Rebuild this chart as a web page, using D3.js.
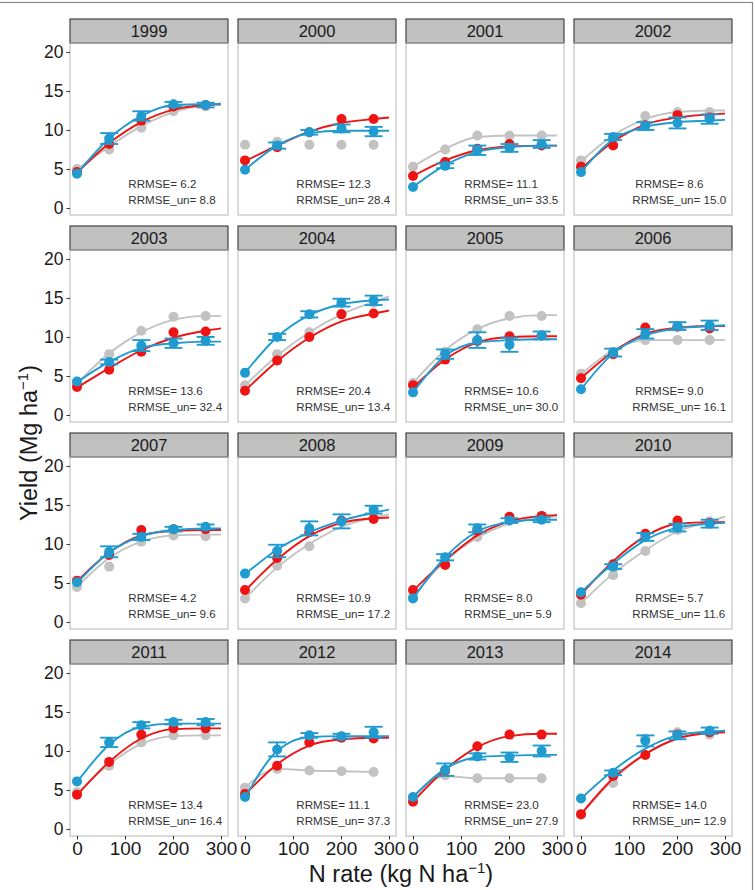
<!DOCTYPE html>
<html>
<head>
<meta charset="utf-8">
<script src="https://cdn.jsdelivr.net/npm/d3@7"></script>
<style>
  body { margin: 0; background: #fff; }
  text { font-family: "Liberation Sans", Arial, sans-serif; }
</style>
</head>
<body>
<div id="chart"></div>
<script>
// --- data ---
const years = ["1999", "2000", "2001", "2002", "2003", "2004", "2005", "2006",
  "2007", "2008", "2009", "2010", "2011", "2012", "2013", "2014"];
const nRates = [0, 67, 134, 201, 268];
const fitRates = [0, 67, 134, 201, 268, 300];
const xTicks = [0, 100, 200, 300];
const yTicks = [0, 5, 10, 15, 20];

const grayObs = [
  [5.0, 7.5, 10.3, 12.4, 13.0], [8.1, 8.5, 8.1, 8.1, 8.1], [5.3, 7.5, 9.3, 9.3, 9.3], [6.1, 8.8, 11.8, 12.3, 12.3],
  [4.0, 7.8, 10.8, 12.6, 12.7], [3.8, 7.8, 10.6, 13.0, 14.4], [4.1, 8.1, 11.0, 12.7, 12.7], [5.3, 8.1, 9.6, 9.6, 9.6],
  [4.5, 7.1, 10.3, 11.1, 11.0], [3.0, 7.2, 9.7, 12.9, 13.5], [3.3, 7.7, 10.9, 13.0, 13.3], [2.4, 6.0, 9.1, 11.8, 12.9],
  [4.7, 8.1, 11.1, 12.0, 12.0], [5.3, 7.7, 7.5, 7.4, 7.3], [4.0, 6.9, 6.5, 6.5, 6.5], [1.8, 5.9, 11.6, 12.4, 12.1]
];
const redObs = [
  [4.6, 8.2, 11.2, 13.0, 13.2], [6.1, 7.8, 9.7, 11.4, 11.4], [4.1, 5.9, 7.6, 8.2, 8.0], [5.3, 8.0, 10.6, 11.9, 11.6],
  [3.6, 5.8, 8.1, 10.6, 10.7], [3.1, 7.0, 10.0, 12.9, 13.0], [3.8, 7.1, 9.5, 10.1, 10.2], [4.7, 7.8, 11.2, 11.3, 11.1],
  [5.3, 8.6, 11.8, 11.9, 11.9], [4.1, 8.2, 11.5, 13.0, 13.2], [4.1, 7.3, 11.7, 13.5, 13.6], [3.5, 7.4, 11.3, 13.0, 12.7],
  [4.4, 8.6, 12.1, 12.9, 12.9], [4.5, 8.1, 11.1, 11.7, 11.6], [3.5, 7.5, 10.6, 12.1, 12.1], [1.9, 6.8, 9.5, 12.1, 12.4]
];
const blueObs = [
  [4.4, 8.9, 11.8, 13.3, 13.2], [4.9, 8.0, 9.7, 10.2, 9.8], [2.7, 5.4, 7.4, 7.7, 8.2], [4.6, 9.1, 10.5, 10.9, 11.4],
  [4.3, 6.8, 8.9, 9.2, 9.5], [5.4, 10.0, 12.9, 14.4, 14.7], [2.9, 7.8, 9.6, 9.0, 10.2], [3.3, 8.0, 10.4, 11.4, 11.5],
  [5.1, 9.0, 10.9, 11.9, 12.2], [6.2, 9.1, 12.0, 12.9, 14.4], [3.0, 8.3, 12.0, 13.0, 13.1], [3.8, 7.1, 10.9, 12.1, 12.6],
  [6.1, 11.1, 13.3, 13.7, 13.7], [4.1, 10.2, 12.0, 11.9, 12.4], [4.1, 7.6, 9.3, 9.2, 10.0], [3.9, 7.2, 11.3, 12.0, 12.6]
];
// half-width of the blue error bars (0 = hidden behind the point)
const blueErr = [
  [0, 0.7, 0.6, 0.3, 0.3], [0, 0.4, 0.3, 0.5, 0.6], [0, 0.3, 0.6, 0.5, 0.5], [0, 0.4, 0.5, 0.7, 0.6],
  [0, 0.3, 0.7, 0.6, 0.5], [0, 0.4, 0.4, 0.5, 0.6], [0, 0.6, 1.0, 0.9, 0.5], [0, 0.5, 0.6, 0.5, 0.6],
  [0, 0.7, 0.4, 0.3, 0.3], [0, 0.8, 0.9, 0.9, 0.5], [0, 0.4, 0.5, 0.3, 0.3], [0, 0.3, 0.5, 0.5, 0.5],
  [0, 0.6, 0.4, 0.3, 0.4], [0, 0.9, 0.3, 0.3, 0.7], [0, 0.8, 0.4, 0.6, 0.7], [0, 0.3, 0.7, 0.5, 0.4]
];

// fitted curves, sampled at fitRates
const grayFit = [
  [4.9, 7.9, 10.5, 12.3, 13.2, 13.4], [null, null, null, null, null, null], [5.3, 7.6, 9.1, 9.3, 9.3, 9.3],
  [6.0, 9.3, 11.4, 12.3, 12.5, 12.5], [4.0, 7.9, 10.6, 12.2, 12.7, 12.7], [3.8, 7.6, 10.6, 12.9, 14.5, 15.2],
  [4.1, 8.3, 11.0, 12.4, 12.8, 12.8], [5.2, 8.3, 9.6, 9.6, 9.6, 9.6], [4.5, 8.2, 10.3, 11.1, 11.2, 11.2],
  [3.0, 7.0, 10.0, 12.2, 13.4, 13.8], [3.3, 7.8, 10.8, 12.6, 13.4, 13.5], [2.4, 6.2, 9.2, 11.6, 12.9, 13.5],
  [4.6, 8.3, 10.9, 11.9, 12.0, 12.0], [5.3, 7.7, 7.5, 7.4, 7.3, null], [4.0, 6.8, 6.5, 6.5, 6.5, null],
  [1.8, 6.3, 9.6, 11.6, 12.4, 12.6]
];
const redFit = [
  [4.5, 8.3, 11.0, 12.6, 13.2, 13.3], [6.0, 8.0, 9.8, 10.9, 11.4, 11.6], [4.1, 6.1, 7.4, 7.9, 8.0, 8.0],
  [5.0, 8.5, 10.7, 11.6, 12.0, 12.1], [3.5, 6.0, 8.3, 9.9, 10.8, 11.1], [3.1, 6.9, 9.9, 12.0, 13.0, 13.4],
  [3.5, 7.1, 9.3, 10.0, 10.1, 10.1], [4.7, 8.1, 10.4, 11.2, 11.4, 11.4], [5.2, 8.9, 11.1, 11.7, 11.8, 11.8],
  [4.0, 8.0, 11.0, 12.7, 13.3, 13.4], [4.0, 7.9, 11.1, 12.9, 13.6, 13.7], [3.5, 7.8, 11.0, 12.6, 12.8, 12.8],
  [4.3, 8.6, 11.6, 12.8, 12.9, 12.9], [4.4, 8.3, 10.7, 11.5, 11.7, 11.7], [3.5, 7.6, 10.5, 11.9, 12.2, 12.2],
  [1.9, 6.5, 9.6, 11.6, 12.3, 12.4]
];
const blueFit = [
  [4.4, 8.9, 11.8, 13.2, 13.3, 13.3], [4.9, 8.0, 9.6, 9.9, 9.9, 9.9], [2.7, 5.5, 7.2, 7.8, 8.0, 8.0],
  [4.6, 8.8, 10.4, 11.0, 11.2, 11.3], [4.2, 6.8, 8.6, 9.2, 9.4, 9.4], [5.4, 10.0, 12.8, 14.2, 14.7, 14.8],
  [2.9, 7.6, 9.3, 9.6, 9.7, 9.7], [3.3, 7.9, 10.2, 11.1, 11.4, 11.5], [5.0, 8.9, 11.0, 11.8, 12.0, 12.0],
  [6.1, 9.3, 11.5, 13.0, 14.0, 14.4], [3.0, 8.3, 11.6, 12.8, 13.1, 13.1], [3.8, 7.5, 10.5, 12.1, 12.6, 12.7],
  [6.0, 10.8, 13.1, 13.5, 13.5, 13.5], [4.0, 10.0, 11.8, 11.9, 11.9, 11.9], [4.1, 7.7, 9.2, 9.4, 9.5, 9.5],
  [3.9, 7.5, 10.3, 12.0, 12.5, 12.6]
];

const rrmse = ["6.2", "12.3", "11.1", "8.6", "13.6", "20.4", "10.6", "9.0",
  "4.2", "10.9", "8.0", "5.7", "13.4", "11.1", "23.0", "14.0"];
const rrmseUn = ["8.8", "28.4", "33.5", "15.0", "32.4", "13.4", "30.0", "16.1",
  "9.6", "17.2", "5.9", "11.6", "16.4", "37.3", "27.9", "12.9"];

// --- layout ---
const width = 755, height = 890;
const nCols = 4;
const panelLeft = 70, panelPitchX = 168, panelW = 158;
const stripTop = 19, panelPitchY = 207, stripH = 24, plotH = 172;
const grayCol = "#c2c2c2", redCol = "#ee1414", blueCol = "#1f9bd0";
const lineW = 1.9, pointR = 5, capHalf = 9;

const svg = d3.select("#chart").append("svg")
  .attr("width", width)
  .attr("height", height);

svg.append("rect")
  .attr("x", -2).attr("y", 2.5)
  .attr("width", 754.5).attr("height", height + 10)
  .attr("fill", "none").attr("stroke", "#8a8a8a").attr("stroke-width", 1.2);

years.forEach((yr, i) => {
  const col = i % nCols, row = Math.floor(i / nCols);
  const left = panelLeft + col * panelPitchX;
  const sTop = stripTop + row * panelPitchY;
  const pTop = sTop + stripH;
  const pBottom = pTop + plotH;

  const x = d3.scaleLinear().domain([-14.6, 314.6]).range([left, left + panelW]);
  const y = d3.scaleLinear().domain([-0.9, 21.15]).range([pBottom, pTop]);

  const g = svg.append("g");

  // strip
  g.append("rect")
    .attr("x", left).attr("y", sTop)
    .attr("width", panelW).attr("height", stripH)
    .attr("fill", "#c0c0c0").attr("stroke", "#333").attr("stroke-width", 1.1);
  g.append("text")
    .attr("x", left + panelW / 2).attr("y", sTop + stripH / 2 + 6)
    .attr("text-anchor", "middle")
    .attr("font-size", 16.5).attr("fill", "#1a1a1a")
    .text(yr);

  // panel border
  g.append("rect")
    .attr("x", left).attr("y", pTop)
    .attr("width", panelW).attr("height", plotH)
    .attr("fill", "none").attr("stroke", "#b5b5b5").attr("stroke-width", 1);

  // axes: y on first column, x on bottom row
  if (col === 0) {
    const ya = g.append("g")
      .attr("transform", `translate(${left},0)`)
      .call(d3.axisLeft(y).tickValues(yTicks).tickSize(3.5).tickPadding(3));
    ya.select(".domain").remove();
    ya.selectAll("line").attr("stroke", "#333");
    ya.selectAll("text").attr("font-size", 17.5).attr("fill", "#1a1a1a")
      .attr("font-family", "Liberation Sans, Arial, sans-serif");
  }
  if (row === Math.floor((years.length - 1) / nCols)) {
    const xa = g.append("g")
      .attr("transform", `translate(0,${pBottom})`)
      .call(d3.axisBottom(x).tickValues(xTicks).tickSize(3.5).tickPadding(2));
    xa.select(".domain").remove();
    xa.selectAll("line").attr("stroke", "#333");
    xa.selectAll("text").attr("font-size", 19).attr("fill", "#1a1a1a")
      .attr("font-family", "Liberation Sans, Arial, sans-serif");
  }

  const line = d3.line()
    .defined(d => d[1] !== null)
    .x(d => x(d[0]))
    .y(d => y(d[1]))
    .curve(d3.curveMonotoneX);

  const series = [
    { fit: grayFit[i], obs: grayObs[i], color: grayCol },
    { fit: redFit[i], obs: redObs[i], color: redCol },
    { fit: blueFit[i], obs: blueObs[i], color: blueCol, err: blueErr[i] }
  ];

  series.forEach(s => {
    const fitPts = fitRates.map((n, k) => [n, s.fit[k]]);
    if (fitPts.some(d => d[1] !== null)) {
      g.append("path")
        .datum(fitPts)
        .attr("d", line)
        .attr("fill", "none")
        .attr("stroke", s.color)
        .attr("stroke-width", lineW);
    }

    const pts = nRates.map((n, k) => ({ n: n, v: s.obs[k], e: s.err ? s.err[k] : 0 }));

    if (s.err) {
      const eb = g.append("g")
        .attr("stroke", s.color)
        .attr("stroke-width", lineW)
        .selectAll("g")
        .data(pts.filter(d => d.e > 0))
        .join("g");
      eb.append("line")
        .attr("x1", d => x(d.n)).attr("x2", d => x(d.n))
        .attr("y1", d => y(d.v - d.e)).attr("y2", d => y(d.v + d.e));
      eb.append("line")
        .attr("x1", d => x(d.n) - capHalf).attr("x2", d => x(d.n) + capHalf)
        .attr("y1", d => y(d.v + d.e)).attr("y2", d => y(d.v + d.e));
      eb.append("line")
        .attr("x1", d => x(d.n) - capHalf).attr("x2", d => x(d.n) + capHalf)
        .attr("y1", d => y(d.v - d.e)).attr("y2", d => y(d.v - d.e));
    }

    g.append("g")
      .selectAll("circle")
      .data(pts)
      .join("circle")
      .attr("cx", d => x(d.n))
      .attr("cy", d => y(d.v))
      .attr("r", pointR)
      .attr("fill", s.color);
  });

  // RRMSE annotation
  const l1 = "RRMSE= " + rrmse[i];
  const l2 = "RRMSE_un= " + rrmseUn[i];
  const shift = (l2.length - l1.length) > 3 ? 3 : 0;
  const tx = x(107);
  g.append("text")
    .attr("x", tx + shift).attr("y", pBottom - 27)
    .attr("font-size", 11.6).attr("fill", "#333")
    .text(l1);
  g.append("text")
    .attr("x", tx).attr("y", pBottom - 11)
    .attr("font-size", 11.6).attr("fill", "#333")
    .text(l2);
});

// axis titles
const yTitle = svg.append("text")
  .attr("transform", "translate(37,443) rotate(-90)")
  .attr("text-anchor", "middle")
  .attr("font-size", 23.5).attr("fill", "#1a1a1a");
yTitle.append("tspan").text("Yield (Mg ha");
yTitle.append("tspan").attr("dy", -9).attr("font-size", 15).text("\u22121");
yTitle.append("tspan").attr("dy", 9).text(")");

const xTitle = svg.append("text")
  .attr("x", 401).attr("y", 882)
  .attr("text-anchor", "middle")
  .attr("font-size", 23.5).attr("fill", "#1a1a1a");
xTitle.append("tspan").text("N rate (kg N ha");
xTitle.append("tspan").attr("dy", -9).attr("font-size", 15).text("\u22121");
xTitle.append("tspan").attr("dy", 9).text(")");
</script>
</body>
</html>
